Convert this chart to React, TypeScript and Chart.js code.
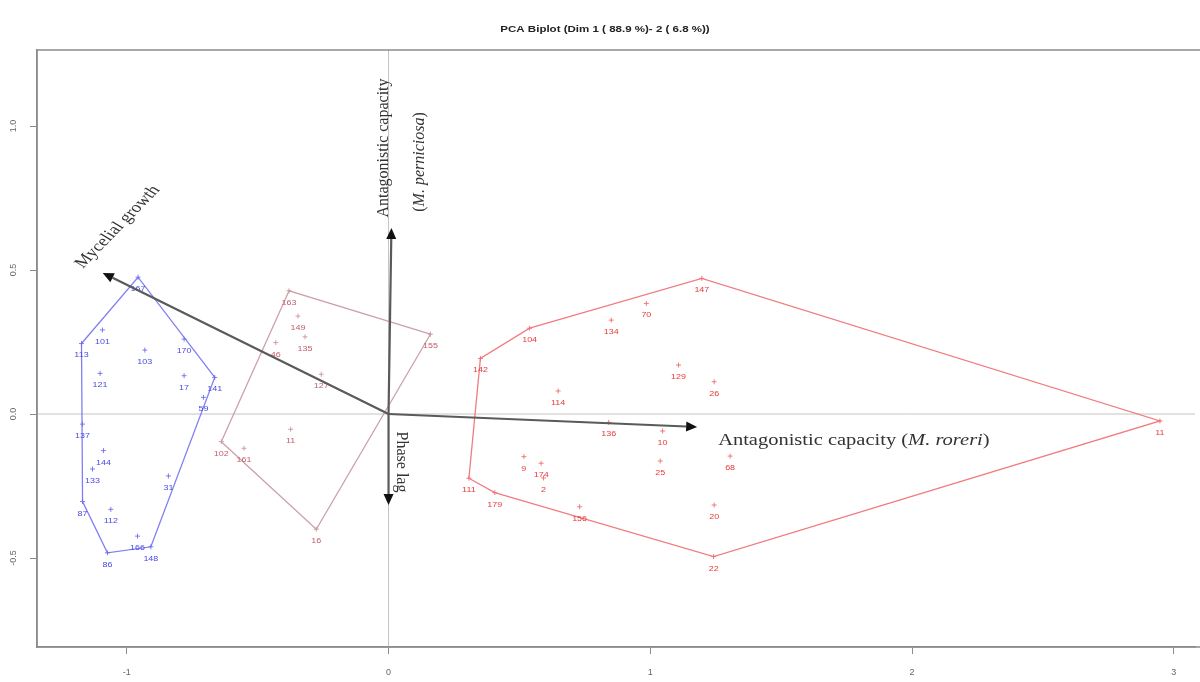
import React, { useEffect, useRef } from 'react';
import { Chart, registerables } from 'chart.js';
Chart.register(...registerables);

const TITLE = 'PCA Biplot (Dim 1 ( 88.9 %)- 2 ( 6.8 %))';
const xTicks = [-1, 0, 1, 2, 3];
const xTickLabels = ['-1', '0', '1', '2', '3'];
const yTicks = [-0.5, 0, 0.5, 1.0];
const yTickLabels = ['-0.5', '0.0', '0.5', '1.0'];

const blueNames = ['167', '101', '113', '103', '170', '121', '17', '141', '59', '137', '144', '133', '31', '87', '112', '166', '148', '86'];
const blueX = [-0.957, -1.093, -1.173, -0.931, -0.781, -1.102, -0.781, -0.664, -0.707, -1.169, -1.089, -1.131, -0.841, -1.169, -1.061, -0.959, -0.908, -1.074];
const blueY = [0.475, 0.292, 0.245, 0.222, 0.26, 0.141, 0.133, 0.127, 0.058, -0.035, -0.127, -0.191, -0.215, -0.304, -0.331, -0.424, -0.461, -0.482];

const brownNames = ['163', '149', '135', '46', '127', '155', '11', '102', '161', '16'];
const brownX = [-0.38, -0.346, -0.319, -0.431, -0.257, 0.16, -0.374, -0.639, -0.552, -0.276];
const brownY = [0.428, 0.34, 0.268, 0.248, 0.138, 0.277, -0.053, -0.096, -0.119, -0.4];

const redNames = ['147', '70', '134', '104', '142', '129', '26', '114', '136', '10', '9', '174', '2', '25', '68', '111', '179', '156', '20', '22', '11'];
const redX = [1.197, 0.985, 0.851, 0.539, 0.351, 1.108, 1.244, 0.648, 0.841, 1.047, 0.517, 0.583, 0.592, 1.038, 1.305, 0.307, 0.406, 0.73, 1.244, 1.242, 2.947];
const redY = [0.471, 0.384, 0.326, 0.298, 0.193, 0.17, 0.112, 0.08, -0.029, -0.059, -0.148, -0.171, -0.222, -0.163, -0.146, -0.223, -0.273, -0.322, -0.316, -0.495, -0.024];

const arrowNames = ['Mycelial growth', 'Antagonistic capacity (M. perniciosa)', 'Antagonistic capacity (M. roreri)', 'Phase lag'];
const arrowX = [-1.092, 0.011, 1.179, 0.0];
const arrowY = [0.49, 0.646, -0.045, -0.316];

const BLUE_LINE = 'rgba(105,105,240,0.85)';
const BLUE_TEXT = '#4a4ae6';
const BROWN_LINE = 'rgba(200,150,158,0.9)';
const BROWN_TEXT = '#c2606e';
const RED_LINE = 'rgba(240,110,115,0.9)';
const RED_TEXT = '#e83a3a';
const STRETCH = 1.28;
const SERIF = '"Liberation Serif", "DejaVu Serif", serif';
const SANS = '"Liberation Sans", Arial, sans-serif';

type P = { x: number; y: number };

function toPoints(xs: number[], ys: number[]): P[] {
  return xs.map((x, i) => ({ x, y: ys[i] }));
}

function convexHull(xs: number[], ys: number[]): P[] {
  const pts = toPoints(xs, ys).sort((a, b) => a.x - b.x || a.y - b.y);
  const cross = (o: P, a: P, b: P) => (a.x - o.x) * (b.y - o.y) - (a.y - o.y) * (b.x - o.x);
  const lower: P[] = [];
  for (const p of pts) {
    while (lower.length >= 2 && cross(lower[lower.length - 2], lower[lower.length - 1], p) <= 0) lower.pop();
    lower.push(p);
  }
  const upper: P[] = [];
  for (let i = pts.length - 1; i >= 0; i--) {
    const p = pts[i];
    while (upper.length >= 2 && cross(upper[upper.length - 2], upper[upper.length - 1], p) <= 0) upper.pop();
    upper.push(p);
  }
  const h = lower.slice(0, -1).concat(upper.slice(0, -1));
  h.push(h[0]);
  return h;
}

type Part = [string, boolean];

function drawRich(ctx: CanvasRenderingContext2D, parts: Part[], x: number, y: number, angle: number, size: number, align: 'center' | 'left', color: string, stretch: number) {
  ctx.save();
  ctx.translate(x, y);
  ctx.scale(stretch, 1);
  ctx.rotate(angle);
  ctx.fillStyle = color;
  ctx.textBaseline = 'middle';
  ctx.textAlign = 'left';
  const widths = parts.map(([t, it]) => {
    ctx.font = `${it ? 'italic ' : ''}${size}px ${SERIF}`;
    return ctx.measureText(t).width;
  });
  const total = widths.reduce((a, b) => a + b, 0);
  let cx = align === 'center' ? -total / 2 : 0;
  parts.forEach(([t, it], i) => {
    ctx.font = `${it ? 'italic ' : ''}${size}px ${SERIF}`;
    ctx.fillText(t, cx, 0);
    cx += widths[i];
  });
  ctx.restore();
}

const biplotPlugin = {
  id: 'biplot',
  beforeDatasetsDraw(chart: any) {
    const { ctx, chartArea: a, scales } = chart;
    const x0 = scales.x.getPixelForValue(0);
    const y0 = scales.y.getPixelForValue(0);
    ctx.save();
    ctx.strokeStyle = '#c4c4c4';
    ctx.lineWidth = 1;
    ctx.beginPath();
    ctx.moveTo(a.left, y0);
    ctx.lineTo(a.right, y0);
    ctx.moveTo(x0, a.top);
    ctx.lineTo(x0, a.bottom);
    ctx.stroke();
    ctx.restore();
  },
  afterDatasetsDraw(chart: any) {
    const { ctx, scales } = chart;
    const sx = scales.x, sy = scales.y;
    const groups: [string[], number[], number[], string][] = [
      [blueNames, blueX, blueY, BLUE_TEXT],
      [brownNames, brownX, brownY, BROWN_TEXT],
      [redNames, redX, redY, RED_TEXT],
    ];
    ctx.save();
    ctx.textAlign = 'center';
    ctx.textBaseline = 'middle';
    ctx.font = `7px ${SANS}`;
    for (const [names, xs, ys, col] of groups) {
      ctx.fillStyle = col;
      names.forEach((n, i) => {
        const px = sx.getPixelForValue(xs[i]);
        const py = sy.getPixelForValue(ys[i]);
        ctx.save();
        ctx.translate(px, py + 12);
        ctx.scale(STRETCH, 1);
        ctx.fillText(n, 0, 0);
        ctx.restore();
      });
    }
    ctx.restore();

    const ox = sx.getPixelForValue(0);
    const oy = sy.getPixelForValue(0);
    const tips = arrowX.map((v, i) => ({ x: sx.getPixelForValue(v), y: sy.getPixelForValue(arrowY[i]) }));
    ctx.save();
    tips.forEach((t) => {
      const ang = Math.atan2(t.y - oy, t.x - ox);
      const L = 11, W = 5;
      const bx = t.x - L * Math.cos(ang), by = t.y - L * Math.sin(ang);
      ctx.strokeStyle = '#5a5a5a';
      ctx.lineWidth = 2.2;
      ctx.beginPath();
      ctx.moveTo(ox, oy);
      ctx.lineTo(bx, by);
      ctx.stroke();
      ctx.fillStyle = '#111';
      ctx.beginPath();
      ctx.moveTo(t.x, t.y);
      ctx.lineTo(bx + W * Math.sin(ang), by - W * Math.cos(ang));
      ctx.lineTo(bx - W * Math.sin(ang), by + W * Math.cos(ang));
      ctx.closePath();
      ctx.fill();
    });
    ctx.restore();

    const TXT = '#333';
    drawRich(ctx, [[arrowNames[0], false]], tips[0].x + 15, tips[0].y - 46, -52.6 * Math.PI / 180, 15, 'center', TXT, STRETCH);
    drawRich(ctx, [['Antagonistic capacity', false]], tips[1].x - 8, tips[1].y - 80, -Math.PI / 2, 16, 'center', TXT, 1);
    drawRich(ctx, [['(', false], ['M. perniciosa', true], [')', false]], tips[1].x + 28, tips[1].y - 66, -Math.PI / 2, 16, 'center', TXT, 1);
    drawRich(ctx, [['Antagonistic capacity (', false], ['M. roreri', true], [')', false]], tips[2].x + 21, tips[2].y + 14, 0, 16, 'left', TXT, STRETCH);
    drawRich(ctx, [[arrowNames[3], false]], tips[3].x + 13, tips[3].y - 43, Math.PI / 2, 16, 'center', TXT, 1);
  },
  afterDraw(chart: any) {
    const { ctx, chartArea: a, scales } = chart;
    ctx.save();
    ctx.strokeStyle = '#8c8c8c';
    ctx.lineWidth = 1.5;
    ctx.beginPath();
    ctx.moveTo(1200, a.top);
    ctx.lineTo(a.left, a.top);
    ctx.lineTo(a.left, a.bottom);
    ctx.lineTo(1200, a.bottom);
    ctx.stroke();
    ctx.fillStyle = '#666';
    ctx.font = `9px ${SANS}`;
    ctx.textAlign = 'center';
    ctx.textBaseline = 'middle';
    yTicks.forEach((v, i) => {
      const py = scales.y.getPixelForValue(v);
      ctx.save();
      ctx.translate(14, py);
      ctx.rotate(-Math.PI / 2);
      ctx.fillText(yTickLabels[i], 0, 0);
      ctx.restore();
    });
    ctx.fillStyle = '#222';
    ctx.font = `bold 9px ${SANS}`;
    ctx.save();
    ctx.translate(605, 30);
    ctx.scale(STRETCH, 1);
    ctx.fillText(TITLE, 0, 0);
    ctx.restore();
    ctx.restore();
  },
};

export default function App() {
  const ref = useRef<HTMLCanvasElement | null>(null);
  useEffect(() => {
    document.body.style.margin = '0';
    const canvas = ref.current!;
    const pointDs = (xs: number[], ys: number[], col: string) => ({
      type: 'scatter' as const,
      data: toPoints(xs, ys),
      pointStyle: 'cross',
      pointRadius: 2.5,
      borderColor: col,
      backgroundColor: col,
      borderWidth: 1,
      showLine: false,
    });
    const hullDs = (xs: number[], ys: number[], col: string) => ({
      type: 'scatter' as const,
      data: convexHull(xs, ys),
      showLine: true,
      pointRadius: 0,
      borderColor: col,
      borderWidth: 1.3,
      fill: false,
      tension: 0,
    });
    const chart = new Chart(canvas, {
      type: 'scatter',
      data: {
        datasets: [
          pointDs(blueX, blueY, BLUE_LINE),
          pointDs(brownX, brownY, BROWN_LINE),
          pointDs(redX, redY, RED_LINE),
          hullDs(blueX, blueY, BLUE_LINE),
          hullDs(brownX, brownY, BROWN_LINE),
          hullDs(redX, redY, RED_LINE),
        ] as any,
      },
      options: {
        responsive: false,
        animation: false,
        devicePixelRatio: 1,
        layout: { padding: { top: 50, right: 0, left: 0, bottom: 0 } },
        plugins: { legend: { display: false }, tooltip: { enabled: false }, title: { display: false } },
        scales: {
          x: {
            type: 'linear',
            min: -1.343,
            max: 3.081,
            afterBuildTicks: (s: any) => { s.ticks = xTicks.map((v) => ({ value: v })); },
            afterFit: (s: any) => { s.height = 35; },
            ticks: {
              color: '#666',
              font: { size: 9, family: SANS },
              padding: 13,
              maxRotation: 0,
              callback: (v: any) => { const i = xTicks.indexOf(Number(v)); return i >= 0 ? xTickLabels[i] : ''; },
            },
            grid: { drawOnChartArea: false, drawTicks: true, tickLength: 7, color: '#8c8c8c', lineWidth: 1 },
            border: { display: true, color: '#8c8c8c', width: 1.5 },
          },
          y: {
            type: 'linear',
            min: -0.809,
            max: 1.264,
            afterBuildTicks: (s: any) => { s.ticks = yTicks.map((v) => ({ value: v })); },
            afterFit: (s: any) => { s.width = 37; },
            ticks: { callback: () => '', padding: 0 },
            grid: { drawOnChartArea: false, drawTicks: true, tickLength: 7, color: '#8c8c8c', lineWidth: 1 },
            border: { display: true, color: '#8c8c8c', width: 1.5 },
          },
        },
      } as any,
      plugins: [biplotPlugin],
    });
    return () => chart.destroy();
  }, []);
  return (
    <div style={{ width: 1200, height: 682, position: 'relative', background: '#fff' }}>
      <canvas ref={ref} width={1200} height={682} style={{ display: 'block', width: 1200, height: 682 }} />
    </div>
  );
}
